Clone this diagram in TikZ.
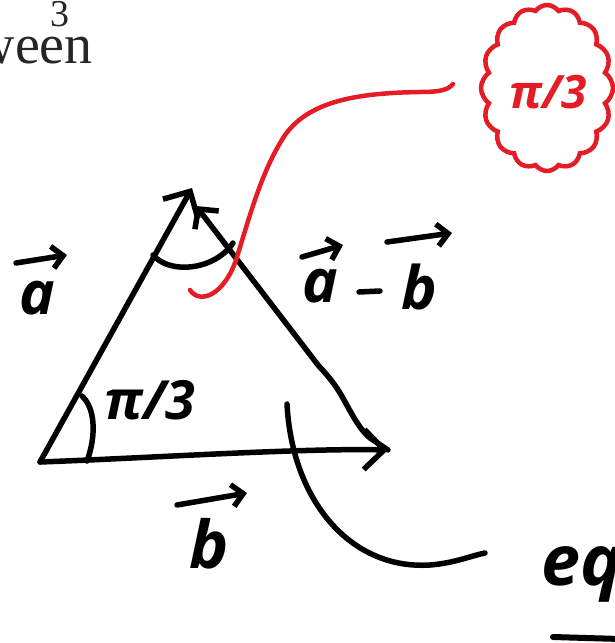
\documentclass[tikz,border=0pt]{standalone}
\usepackage{fontspec}
\setmainfont{Liberation Serif}
\newfontfamily\hand{Open Sans}
\usetikzlibrary{arrows.meta,shapes.symbols}
\definecolor{penred}{RGB}{228,28,38}
\begin{document}
\begin{tikzpicture}[x=1pt,y=-1pt,
  pen/.style={line width=5.5pt,line cap=round,line join=round,black},
  redpen/.style={line width=4.5pt,line cap=round,line join=round,penred},
  bigtip/.style={-{Straight Barb[length=20pt,width=40pt,line width=5.5pt]}},
  smalltip/.style={-{Straight Barb[length=11pt,width=22pt,line width=5.5pt]}},
  letter/.style={font=\hand\bfseries\itshape\fontsize{60}{60}\selectfont,inner sep=0pt},
  printed/.style={inner sep=0pt,text=black!85}]
\useasboundingbox (0,0) rectangle (615,643);
\clip (0,0) rectangle (615,643);
% printed fragments
\node[printed,font=\fontsize{38}{38}\selectfont,anchor=base] (three) at (60,26) {3};
\node[printed,font=\fontsize{56}{56}\selectfont,anchor=base east] (ween) at (93,63) {ween};
% triangle vertices
\coordinate (O) at (40,462);
\coordinate (A) at (192,188);
\coordinate (A2) at (196,206);
\coordinate (B) at (388,450);
\coordinate (k1) at (370,438);
\coordinate (k2) at (340,393);
\coordinate (k3) at (318,365);
% sides
\draw[pen,bigtip] (O) -- (A);
\draw[pen,bigtip] (O) .. controls (150,458) and (300,448) .. (B);
\draw[pen,-{Straight Barb[length=14pt,width=30pt,line width=5.5pt]}] (B) -- (k1)
  .. controls (358,428) and (350,410) .. (k2)
  .. controls (332,380) and (326,374) .. (k3) -- (A2);
% angle arcs
\coordinate (p1) at (153,255);
\coordinate (p2) at (233,243);
\draw[pen] (p1) .. controls (170,275) and (215,270) .. (p2);
\coordinate (q1) at (82,396);
\coordinate (q2) at (87,461);
\draw[pen] (q1) .. controls (97,410) and (95,440) .. (q2);
% labels
\node[letter] (la) at (37,298) {a};
\coordinate (la1) at (16,263);
\coordinate (la2) at (67,255);
\draw[pen,smalltip] (la1) -- (la2);
\node[letter,font=\hand\bfseries\itshape\fontsize{54}{54}\selectfont] (ang) at (150,400) {π/3};
\node[letter,font=\hand\bfseries\itshape\fontsize{66}{66}\selectfont] (lb) at (209,544) {b};
\coordinate (lb1) at (177,505);
\coordinate (lb2) at (247,493);
\draw[pen,smalltip] (lb1) -- (lb2);
\node[letter] (ld1) at (320,286) {a};
\coordinate (ld1s) at (302,257);
\coordinate (ld1e) at (343,245);
\draw[pen,smalltip] (ld1s) -- (ld1e);
\coordinate (m1) at (359,292);
\coordinate (m2) at (380,291);
\draw[pen] (m1) -- (m2);
\node[letter] (ld2) at (419,287) {b};
\coordinate (ld2s) at (387,242);
\coordinate (ld2e) at (452,233);
\draw[pen,smalltip] (ld2s) -- (ld2e);
% black curve to "equ"
\coordinate (c1) at (287,404);
\coordinate (c2) at (485,553);
\draw[pen] (c1) .. controls (292,500) and (350,570) .. (430,565) .. controls (455,563) and (470,556) .. (c2);
\node[letter,anchor=base west,font=\hand\bfseries\itshape\fontsize{70}{70}\selectfont] (equ) at (541,585) {equ};
\coordinate (u1) at (553,637);
\coordinate (u2) at (620,639);
\draw[pen,line width=6pt] (u1) -- (u2);
% red annotation
\node[cloud,cloud puffs=16,cloud puff arc=110,aspect=0.8,draw=penred,line width=4.5pt,
  minimum width=132pt,minimum height=166pt,inner sep=0pt] (cl) at (547,88) {};
\node[letter,text=penred,font=\hand\bfseries\itshape\fontsize{46}{46}\selectfont] (rang) at (548,92) {π/3};
\coordinate (r1) at (190,290);
\coordinate (r2) at (453,84);
\draw[redpen] (r1) .. controls (200,305) and (225,295) .. (237,257)
  .. controls (250,215) and (262,170) .. (285,135)
  .. controls (310,100) and (360,93) .. (420,92)
  .. controls (440,92) and (448,90) .. (r2);
\end{tikzpicture}
\end{document}
